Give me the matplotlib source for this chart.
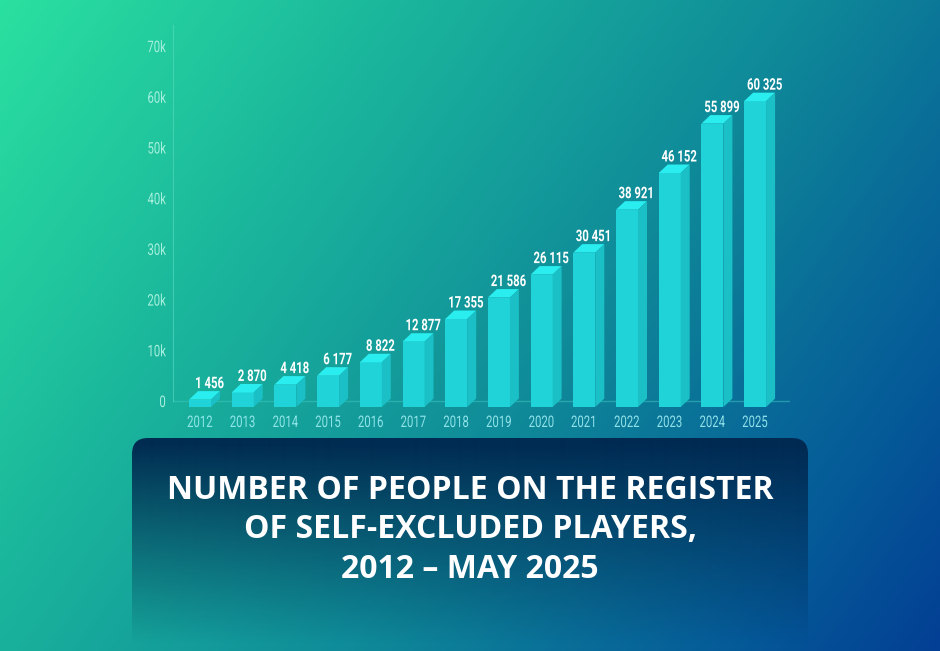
import matplotlib
matplotlib.use("Agg")
import matplotlib.pyplot as plt
import matplotlib.patheffects as pe
from matplotlib.colors import LinearSegmentedColormap
from matplotlib.patches import FancyBboxPatch, Polygon
from matplotlib.transforms import Affine2D
import numpy as np

# Values
years = [2012, 2013, 2014, 2015, 2016, 2017, 2018, 2019, 2020, 2021, 2022, 2023, 2024, 2025]
people = [1456, 2870, 4418, 6177, 8822, 12877, 17355, 21586, 26115, 30451, 38921, 46152, 55899, 60325]
value_labels = ["1 456", "2 870", "4 418", "6 177", "8 822", "12 877", "17 355", "21 586",
                "26 115", "30 451", "38 921", "46 152", "55 899", "60 325"]
y_ticks = [0, 10000, 20000, 30000, 40000, 50000, 60000, 70000]
y_tick_labels = ["0", "10k", "20k", "30k", "40k", "50k", "60k", "70k"]
title_lines = "NUMBER OF PEOPLE ON THE REGISTER\nOF SELF-EXCLUDED PLAYERS,\n2012 – MAY 2025"

W, H = 940, 651


class Condense(pe.AbstractPathEffect):
    """Squeeze text horizontally, no condensed font is installed."""

    def __init__(self, scale, anchor=0.5):
        super().__init__()
        self.scale = scale
        self.anchor = anchor

    def draw_path(self, renderer, gc, tpath, affine, rgbFace=None):
        box = tpath.get_extents(affine)
        px = box.x0 + (box.x1 - box.x0) * self.anchor
        squeeze = Affine2D().translate(-px, 0).scale(self.scale, 1).translate(px, 0)
        renderer.draw_path(gc, tpath, affine + squeeze, rgbFace)


fig = plt.figure(figsize=(W / 100, H / 100), dpi=100)

# Background gradient, running from top left to bottom right
bg = fig.add_axes([0, 0, 1, 1], zorder=0)
bg.axis("off")
xx, yy = np.meshgrid(np.arange(W), np.arange(H))
t = (xx * 0.82 + yy * 0.57) / (W * 0.82 + H * 0.57)
bg_cmap = LinearSegmentedColormap.from_list(
    "bg", [(0, "#2ae0a0"), (0.3, "#1ab49c"), (0.58, "#0f8a99"), (0.72, "#0a7098"),
           (0.85, "#055a98"), (1, "#033f94")])
bg.imshow(t, cmap=bg_cmap, vmin=0, vmax=1, extent=(0, W, H, 0), aspect="auto", interpolation="bilinear")

# Title panel, dark at the top and fading out at the bottom
panel_rgba = np.zeros((H, 1, 4))
panel_rgba[..., 1] = 40 / 255
panel_rgba[..., 2] = 80 / 255
panel_rgba[..., 3] = np.clip(1 - (np.arange(H) - 438) / 205, 0, 0.97)[:, None]
panel_img = bg.imshow(panel_rgba, extent=(0, W, H, 0), aspect="auto", interpolation="bilinear")
panel_clip = FancyBboxPatch((148, 454), 644, 260, boxstyle="round,pad=16,rounding_size=16",
                            transform=bg.transData, facecolor="none", edgecolor="none")
bg.add_patch(panel_clip)
panel_img.set_clip_path(panel_clip)
bg.set_xlim(0, W)
bg.set_ylim(H, 0)

bg.text(470, 530, title_lines, color="white", fontsize=23, fontweight="bold", family="Open Sans",
        ha="center", va="center", linespacing=1.27)

# Chart axes, placed so that 10k is about 50.7 px and years 42.7 px apart
left, right, top, bottom = 173, 790, 25, 415
ax = fig.add_axes([left / W, 1 - bottom / H, (right - left) / W, (bottom - top) / H], zorder=1)
ax.patch.set_alpha(0)
px_y = 50.7 / 10000
px_x = 42.7
ax.set_xlim(2012 - 27 / px_x, 2012 + (right - left - 27) / px_x)
ax.set_ylim(-14 / px_y, (401 - top) / px_y)

# Fake 3D bars: front face sits below the zero line, depth goes up and right
bar_w = 22 / px_x
depth_x = 9 / px_x
depth_y = 8.5 / px_y
floor = -6 / px_y

ax.axhline(0, color="#3fc9c0", alpha=0.5, linewidth=1, zorder=1)
ax.bar(years, people, width=bar_w, bottom=floor, color="#1fd3d8", linewidth=0, zorder=3)
for year, value, label in zip(years, people, value_labels):
    x0 = year - bar_w / 2
    x1 = year + bar_w / 2
    front_top = floor + value
    ax.add_patch(Polygon([(x0, front_top), (x1, front_top), (x1 + depth_x, front_top + depth_y),
                          (x0 + depth_x, front_top + depth_y)],
                         closed=True, facecolor="#2aedef", edgecolor="none", zorder=3))
    ax.add_patch(Polygon([(x1, floor), (x1 + depth_x, floor + depth_y), (x1 + depth_x, front_top + depth_y),
                          (x1, front_top)],
                         closed=True, facecolor="#1bc0c6", edgecolor="none", zorder=3))
    ax.annotate(label, (year + depth_x / 2, front_top + depth_y), xytext=(5, 3), textcoords="offset pixels",
                color="white", fontsize=11.5, fontweight="bold", family="Roboto", ha="center", va="baseline",
                path_effects=[Condense(0.71)])

for side in ["top", "right", "bottom"]:
    ax.spines[side].set_visible(False)
ax.spines["left"].set_bounds(0, (401 - top) / px_y)
ax.spines["left"].set_color("#58dcc0")
ax.spines["left"].set_alpha(0.6)

ax.set_yticks(y_ticks, y_tick_labels, family="Roboto", fontsize=11.5, color="#a8f0de")
ax.set_xticks(years, [str(y) for y in years], family="Roboto", fontsize=11.5, color=(0.62, 0.93, 0.95, 0.9))
ax.tick_params(axis="both", length=0)
ax.tick_params(axis="y", pad=5)
ax.tick_params(axis="x", pad=0)
for lab in ax.get_yticklabels():
    lab.set_path_effects([Condense(0.71, anchor=1)])
for lab in ax.get_xticklabels():
    lab.set_path_effects([Condense(0.71)])

fig.savefig("out.png", dpi=100)
